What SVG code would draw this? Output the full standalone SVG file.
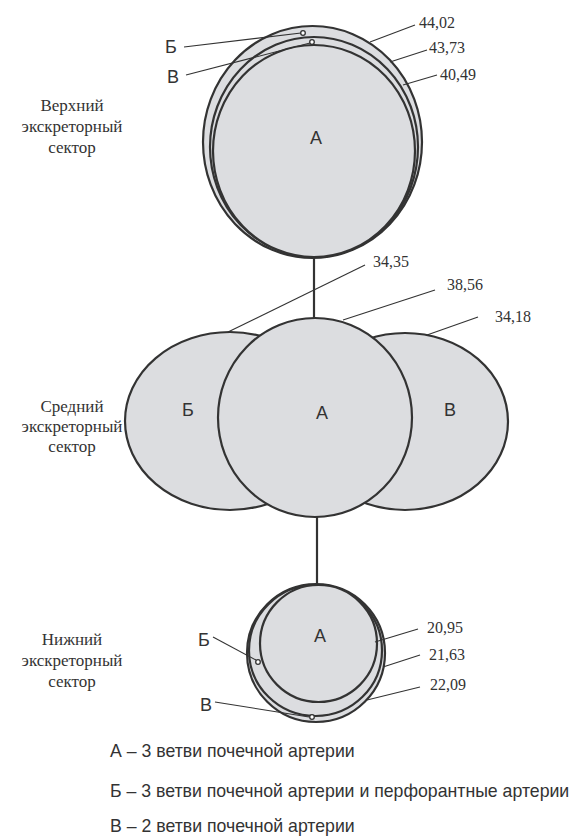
<svg xmlns="http://www.w3.org/2000/svg" width="569" height="836" viewBox="0 0 569 836">
<style>
.sh{fill:#dcdde0;stroke:#333;stroke-width:2.2}
.ld{stroke:#333;stroke-width:1.1;fill:none}
.cn{stroke:#333;stroke-width:2.2;fill:none}
.dot{fill:#fff;stroke:#333;stroke-width:1.3}
.num{font-family:"Liberation Serif",serif;font-size:16px;fill:#333}
.sec{font-family:"Liberation Serif",serif;font-size:17px;fill:#333;text-anchor:middle}
.let{font-family:"Liberation Sans",Arial,sans-serif;font-size:18px;fill:#333}
.leg{font-family:"Liberation Sans",Arial,sans-serif;font-size:17.7px;fill:#333}
</style>
<rect width="569" height="836" fill="#fff"/>
<g id="connectors">
<line class="cn" x1="314" y1="256" x2="314" y2="319"/>
<line class="cn" x1="317" y1="515" x2="317" y2="586"/>
</g>
<g id="upper">
<ellipse class="sh" cx="312.5" cy="142" rx="109.5" ry="116"/>
<ellipse class="sh" cx="314" cy="147" rx="104" ry="110"/>
<ellipse class="sh" cx="314" cy="151" rx="101" ry="106"/>
<circle class="dot" cx="303" cy="33" r="2.3"/>
<circle class="dot" cx="312" cy="42" r="2.3"/>
<text class="let" x="316" y="144" text-anchor="middle">А</text>
<line class="ld" x1="184" y1="47" x2="301" y2="33"/>
<line class="ld" x1="186" y1="75" x2="310" y2="43"/>
<text class="let" x="165" y="53">Б</text>
<text class="let" x="167" y="83">В</text>
<line class="ld" x1="370" y1="42" x2="415" y2="25"/>
<line class="ld" x1="390" y1="62" x2="427" y2="50"/>
<line class="ld" x1="403" y1="85" x2="437" y2="75"/>
<text class="num" x="419" y="28">44,02</text>
<text class="num" x="429" y="53">43,73</text>
<text class="num" x="440" y="80">40,49</text>
</g>
<g id="upper-label">
<text class="sec" x="72" y="111">Верхний</text>
<text class="sec" x="72" y="132">экскреторный</text>
<text class="sec" x="72" y="153">сектор</text>
</g>
<g id="middle">
<ellipse class="sh" cx="230" cy="421" rx="105" ry="89"/>
<ellipse class="sh" cx="405" cy="421.5" rx="103" ry="88.5"/>
<ellipse class="sh" cx="315" cy="417.5" rx="97" ry="99.5"/>
<text class="let" x="188" y="416" text-anchor="middle">Б</text>
<text class="let" x="322" y="419" text-anchor="middle">А</text>
<text class="let" x="450" y="416" text-anchor="middle">В</text>
<line class="ld" x1="228" y1="332" x2="365" y2="265"/>
<line class="ld" x1="343" y1="320" x2="435" y2="290"/>
<line class="ld" x1="427" y1="335" x2="478" y2="317"/>
<text class="num" x="373" y="267">34,35</text>
<text class="num" x="447" y="290">38,56</text>
<text class="num" x="495" y="322">34,18</text>
</g>
<g id="middle-label">
<text class="sec" x="72" y="412">Средний</text>
<text class="sec" x="72" y="432">экскреторный</text>
<text class="sec" x="72" y="452">сектор</text>
</g>
<g id="lower">
<ellipse class="sh" cx="316" cy="653" rx="69" ry="69"/>
<ellipse class="sh" cx="315.5" cy="650.5" rx="66.5" ry="65.5"/>
<ellipse class="sh" cx="318.5" cy="643.5" rx="58.5" ry="58.5"/>
<circle class="dot" cx="258" cy="662" r="2.3"/>
<circle class="dot" cx="312" cy="717" r="2.3"/>
<text class="let" x="320" y="642" text-anchor="middle">А</text>
<line class="ld" x1="213" y1="637" x2="256" y2="660"/>
<line class="ld" x1="215" y1="702" x2="309" y2="717"/>
<text class="let" x="198" y="646">Б</text>
<text class="let" x="200" y="711">В</text>
<line class="ld" x1="375" y1="642" x2="418" y2="629"/>
<line class="ld" x1="383" y1="667" x2="420" y2="655"/>
<line class="ld" x1="367" y1="700" x2="420" y2="687"/>
<text class="num" x="427" y="633">20,95</text>
<text class="num" x="429" y="660">21,63</text>
<text class="num" x="430" y="690">22,09</text>
</g>
<g id="lower-label">
<text class="sec" x="72" y="645">Нижний</text>
<text class="sec" x="72" y="666">экскреторный</text>
<text class="sec" x="72" y="687">сектор</text>
</g>
<g id="legend">
<text class="leg" x="110" y="757">А – 3 ветви почечной артерии</text>
<text class="leg" x="110" y="797">Б – 3 ветви почечной артерии и перфорантные артерии</text>
<text class="leg" x="110" y="832">В – 2 ветви почечной артерии</text>
</g>
</svg>
